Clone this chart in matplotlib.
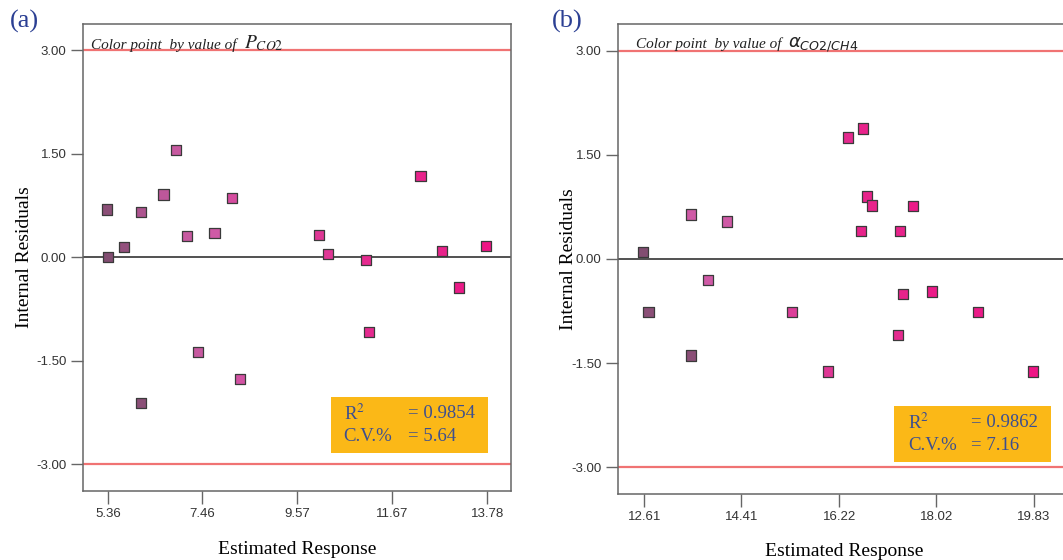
import matplotlib

matplotlib.use("Agg")
from matplotlib import pyplot as plt
from matplotlib.colors import LinearSegmentedColormap
from matplotlib.patches import Rectangle

# panel (a): colour by P_CO2
est_a = [5.34, 5.37, 5.715, 6.09, 6.595, 6.87, 7.11, 7.73, 8.11, 10.05,
         10.25, 11.10, 12.30, 12.78, 13.75, 13.155, 11.16, 7.37, 8.30, 6.09]
res_a = [0.69, 0.00, 0.15, 0.65, 0.91, 1.55, 0.31, 0.35, 0.86, 0.32,
         0.05, -0.04, 1.18, 0.09, 0.16, -0.44, -1.09, -1.38, -1.77, -2.11]
shade_a = [0.1, 0.05, 0.15, 0.3, 0.4, 0.45, 0.45, 0.5, 0.6, 0.75,
           0.75, 0.85, 0.9, 0.9, 1.0, 0.95, 0.85, 0.45, 0.55, 0.1]
ticks_a = [5.36, 7.46, 9.57, 11.67, 13.78]
stats_a = ("0.9854", "5.64")

# panel (b): colour by alpha CO2/CH4
est_b = [12.58, 13.475, 14.14, 16.385, 16.66, 16.74, 16.835, 16.62, 17.355, 17.585,
         13.795, 12.685, 13.475, 15.35, 16.014, 17.31, 17.405, 17.94, 18.80, 19.82]
res_b = [0.10, 0.64, 0.54, 1.75, 1.88, 0.90, 0.77, 0.40, 0.40, 0.76,
         -0.30, -0.76, -1.39, -0.76, -1.62, -1.09, -0.50, -0.47, -0.76, -1.62]
shade_b = [0.05, 0.5, 0.5, 0.85, 0.9, 0.9, 0.9, 0.9, 0.9, 0.95,
           0.5, 0.1, 0.1, 0.7, 0.75, 0.85, 0.9, 0.95, 0.95, 1.0]
ticks_b = [12.61, 14.41, 16.22, 18.02, 19.83]
stats_b = ("0.9862", "7.16")

y_ticks = [-3.0, -1.5, 0.0, 1.5, 3.0]
limit = 3.0

cmap = LinearSegmentedColormap.from_list("pink", ["#7a4c6c", "#cf5aa6", "#ee1585"])
serif = "Liberation Serif"
sans = "Liberation Sans"
blue = "#2b3f93"
txt_blue = "#3d4f8f"


def residual_panel(ax, x, y, shade, xticks, xlim, ylim, stats, box, ylab_x):
    ax.scatter(x, y, c=shade, cmap=cmap, vmin=0, vmax=1, marker="s", s=54,
               edgecolors="#3a3a3a", linewidths=0.9, zorder=3)
    ax.axhline(limit, color="#f07373", lw=1.6, zorder=2)
    ax.axhline(-limit, color="#f07373", lw=1.6, zorder=2)
    ax.axhline(0, color="#333333", lw=1.2, zorder=2)
    ax.set_xlim(*xlim)
    ax.set_ylim(*ylim)
    ax.set_xticks(xticks)
    ax.set_xticklabels(["%.2f" % t for t in xticks])
    ax.set_yticks(y_ticks)
    ax.set_yticklabels(["%.2f" % t for t in y_ticks])
    ax.tick_params(direction="out", length=9, width=1, color="#666666",
                   labelsize=9.5, labelcolor="#333333", pad=3)
    for lab in ax.get_xticklabels() + ax.get_yticklabels():
        lab.set_family(sans)
    for s in ax.spines.values():
        s.set_color("#666666")
        s.set_linewidth(1.1)
    ax.set_xlabel("Estimated Response", family=serif, fontsize=14, labelpad=15)
    ax.set_ylabel("Internal Residuals", family=serif, fontsize=14)
    ax.yaxis.set_label_coords(ylab_x, 0.5)
    x0, y0, w, h = box
    ax.add_patch(Rectangle((x0, y0), w, h, transform=ax.transAxes,
                           facecolor="#fbb817", edgecolor="none", zorder=4))
    ax.text(x0 + 0.03, y0 + h * 0.7, "R$^2$", transform=ax.transAxes, family=serif,
            fontsize=13.5, color=txt_blue, va="center", zorder=5,
            math_fontfamily="stix")
    ax.text(x0 + 0.03, y0 + h * 0.3, "C.V.%", transform=ax.transAxes, family=serif,
            fontsize=13.5, color=txt_blue, va="center", zorder=5)
    ax.text(x0 + w * 0.49, y0 + h * 0.7, "= " + stats[0], transform=ax.transAxes,
            family=serif, fontsize=13.5, color=txt_blue, va="center", zorder=5)
    ax.text(x0 + w * 0.49, y0 + h * 0.3, "= " + stats[1], transform=ax.transAxes,
            family=serif, fontsize=13.5, color=txt_blue, va="center", zorder=5)


fig = plt.figure(figsize=(10.63, 5.6), dpi=100)
ax_a = fig.add_axes([0.0781, 0.1232, 0.4026, 0.8339])
ax_b = fig.add_axes([0.5817, 0.1179, 0.4249, 0.8393])

residual_panel(ax_a, est_a, res_a, shade_a, ticks_a, (4.81, 14.31), (-3.39, 3.38),
               stats_a, (0.579, 0.081, 0.367, 0.121), -0.117)
residual_panel(ax_b, est_b, res_b, shade_b, ticks_b, (12.128, 20.50), (-3.385, 3.385),
               stats_b, (0.611, 0.067, 0.346, 0.121), -0.092)

# colour-by captions
ax_a.text(0.018, 0.955, "Color point  by value of", transform=ax_a.transAxes,
          family=serif, style="italic", fontsize=11, color="#222222", va="center")
ax_a.text(0.376, 0.958, r"$P_{CO2}$", transform=ax_a.transAxes, fontsize=14,
          color="#222222", va="center", math_fontfamily="stix")
ax_b.text(0.04, 0.957, "Color point  by value of", transform=ax_b.transAxes,
          family=serif, style="italic", fontsize=11, color="#222222", va="center")
ax_b.text(0.376, 0.955, r"$\alpha_{\mathit{CO2/CH4}}$", transform=ax_b.transAxes,
          fontsize=13, color="#222222", va="center", math_fontfamily="dejavusans")

fig.text(0.009, 0.962, "(a)", family=serif, fontsize=19, color=blue, va="center")
fig.text(0.519, 0.962, "(b)", family=serif, fontsize=19, color=blue, va="center")

fig.savefig("out.png", dpi=100)
